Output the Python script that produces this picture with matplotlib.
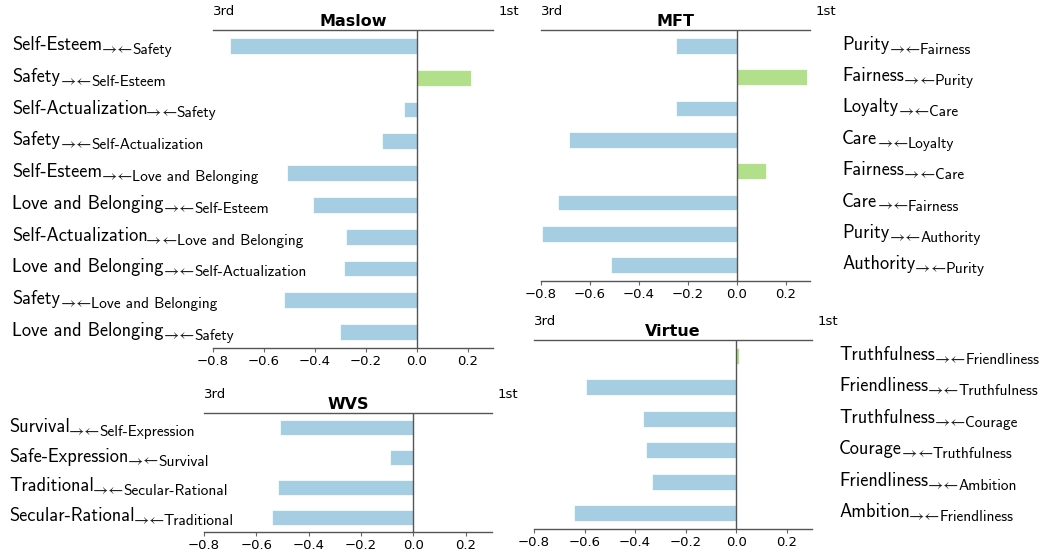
import matplotlib.pyplot as plt
import matplotlib.transforms as mtransforms
from matplotlib.font_manager import FontProperties
from matplotlib.textpath import TextPath

# data, top to bottom
maslow_main = ['Self-Esteem', 'Safety', 'Self-Actualization', 'Safety', 'Self-Esteem',
               'Love and Belonging', 'Self-Actualization', 'Love and Belonging', 'Safety',
               'Love and Belonging']
maslow_sub = ['Safety', 'Self-Esteem', 'Safety', 'Self-Actualization', 'Love and Belonging',
              'Self-Esteem', 'Love and Belonging', 'Self-Actualization', 'Love and Belonging',
              'Safety']
maslow_vals = [-0.735, 0.213, -0.051, -0.137, -0.511, -0.409, -0.279, -0.284, -0.523, -0.302]

mft_main = ['Purity', 'Fairness', 'Loyalty', 'Care', 'Fairness', 'Care', 'Purity', 'Authority']
mft_sub = ['Fairness', 'Purity', 'Care', 'Loyalty', 'Care', 'Fairness', 'Authority', 'Purity']
mft_vals = [-0.248, 0.288, -0.249, -0.687, 0.121, -0.732, -0.795, -0.515]

wvs_main = ['Survival', 'Safe-Expression', 'Traditional', 'Secular-Rational']
wvs_sub = ['Self-Expression', 'Survival', 'Secular-Rational', 'Traditional']
wvs_vals = [-0.510, -0.091, -0.517, -0.542]

virtue_main = ['Truthfulness', 'Friendliness', 'Truthfulness', 'Courage', 'Friendliness', 'Ambition']
virtue_sub = ['Friendliness', 'Truthfulness', 'Courage', 'Truthfulness', 'Ambition', 'Friendliness']
virtue_vals = [0.013, -0.593, -0.370, -0.356, -0.335, -0.642]

BLUE = '#a6cee3'
GREEN = '#b2df8a'
W, H = 1052, 552
DPI = 100
LABEL_FONT = ['cmss10', 'DejaVu Sans']
ARROW_FONT = ['STIXGeneral', 'DejaVu Sans']
MAIN_SIZE, ARROW_SIZE, SUB_SIZE = 13.2, 12, 11

fig = plt.figure(figsize=(W / DPI, H / DPI), dpi=DPI)


def ink_right(s, family, size):
    # right edge of the glyph ink, in pixels from the text origin
    tp = TextPath((0, 0), s, size=size, prop=FontProperties(family=family))
    return tp.get_extents().x1 * DPI / 72


def shift(dy):
    return mtransforms.ScaledTranslation(0, -dy / DPI, fig.dpi_scale_trans)


def panel(box, title, mains, subs, vals, label_x):
    x0, x1, ytop, ybot = box
    ax = fig.add_axes([x0 / W, 1 - ybot / H, (x1 - x0) / W, (ybot - ytop) / H])
    n = len(vals)
    colors = [GREEN if v > 0 else BLUE for v in vals]
    ax.barh(range(n), vals, height=0.5, color=colors, edgecolor='white', linewidth=0.5)
    ax.set_xlim(-0.8, 0.3)
    ax.set_ylim(n - 0.5, -0.5)
    ax.axvline(0, color='#555555', lw=1)
    ax.set_yticks([])
    ax.set_xticks([-0.8, -0.6, -0.4, -0.2, 0.0, 0.2])
    ax.tick_params(axis='x', labelsize=9.5, length=3, color='#666666', pad=2)
    for s in ['left', 'right']:
        ax.spines[s].set_visible(False)
    for s in ['top', 'bottom']:
        ax.spines[s].set_color('#555555')
        ax.spines[s].set_linewidth(1)
    ax.set_title(title, fontweight='bold', fontsize=11.5, pad=3)
    h = ybot - ytop
    ax.text(0, 1 + 12 / h, '3rd', transform=ax.transAxes, fontsize=9.5, ha='left', va='bottom')
    ax.text(1 + 6 / (x1 - x0), 1 + 12 / h, '1st', transform=ax.transAxes,
            fontsize=9.5, ha='left', va='bottom')

    base = mtransforms.blended_transform_factory(fig.transFigure, ax.transData)
    for i, (m, s) in enumerate(zip(mains, subs)):
        x = label_x
        ax.text(x / W, i, m, transform=base + shift(4), fontsize=MAIN_SIZE,
                family=LABEL_FONT, ha='left', va='baseline')
        x += ink_right(m, LABEL_FONT, MAIN_SIZE) + 1
        for arrow in ['→', '←']:
            ax.text(x / W, i, arrow, transform=base + shift(8), fontsize=ARROW_SIZE,
                    family=ARROW_FONT, ha='left', va='baseline', color='#222222')
            x += ink_right(arrow, ARROW_FONT, ARROW_SIZE) + 1
        ax.text(x / W, i, s, transform=base + shift(8), fontsize=SUB_SIZE,
                family=LABEL_FONT, ha='left', va='baseline')
    return ax


panel((213, 493, 30, 348), 'Maslow', maslow_main, maslow_sub, maslow_vals, 12)
panel((541, 810, 30, 281), 'MFT', mft_main, mft_sub, mft_vals, 842)
panel((204, 492, 413, 532), 'WVS', wvs_main, wvs_sub, wvs_vals, 9)
panel((534, 812, 340, 529), 'Virtue', virtue_main, virtue_sub, virtue_vals, 839)

fig.savefig('out.png', dpi=DPI)
